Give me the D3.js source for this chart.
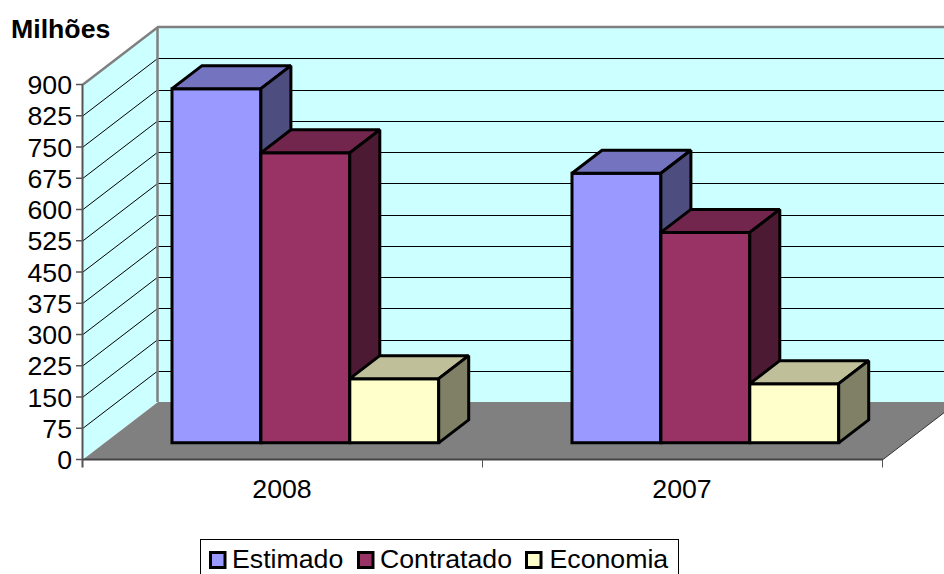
<!DOCTYPE html>
<html><head><meta charset="utf-8">
<script src="https://cdn.jsdelivr.net/npm/d3@7/dist/d3.min.js"></script>
<style>html,body{margin:0;padding:0;background:#fff}svg{display:block}text{font-family:"Liberation Sans",Arial,sans-serif;fill:#000}</style>
</head><body><svg id="c" width="944" height="574"></svg>
<script>
const categories = ["2008", "2007"];
const seriesNames = ["Estimado", "Contratado", "Economia"];
const estimado = [850, 647];
const contratado = [696, 505];
const economia = [154, 142];
const tickValues = [0,75,150,225,300,375,450,525,600,675,750,825,900];
const seriesValues = [estimado, contratado, economia];
const faceColors = ["#9999FF", "#993366", "#FFFFCC"];
const topColors = ["#7373BF", "#73264D", "#BFBF99"];
const sideColors = ["#4D4D80", "#4D1A33", "#808066"];

const svg = d3.select("#c");
const y = d3.scaleLinear().domain([0, 900]).range([459.5, 84.5]);
const x = d3.scaleBand().domain(categories).range([83, 883]);
const depth = {dx: 75, dy: -57.5};
const barFrac = 0.29, barDepth = 0.40;
const bw = 88.9;
const fs = 26.7;
const line = p => "M" + p.map(d => d.join(",")).join("L") + "Z";
const bottom = y(0), top9 = y(900), L = x.range()[0], R = x.range()[1];

// back wall, side wall, floor
svg.append("path").attr("d", line([[L+depth.dx, top9+depth.dy],[960, top9+depth.dy],[960,bottom+depth.dy],[L+depth.dx,bottom+depth.dy]])).attr("fill","#CCFFFF");
svg.append("path").attr("d", line([[L,top9],[L+depth.dx,top9+depth.dy],[L+depth.dx,bottom+depth.dy],[L,bottom]])).attr("fill","#CCFFFF");
svg.append("path").attr("d", line([[L,bottom],[L+depth.dx,bottom+depth.dy],[R+depth.dx,bottom+depth.dy],[R,bottom]])).attr("fill","#808080");

// gridlines
tickValues.slice(1,-1).forEach(t => {
  svg.append("line").attr("x1",L).attr("y1",y(t)).attr("x2",L+depth.dx).attr("y2",y(t)+depth.dy).attr("stroke","#000").attr("stroke-width",1);
  svg.append("line").attr("x1",L+depth.dx).attr("y1",Math.round(y(t)+depth.dy)+.5).attr("x2",944).attr("y2",Math.round(y(t)+depth.dy)+.5).attr("stroke","#000").attr("stroke-width",1);
});
// wall edges
const edge = "#808080";
svg.append("path").attr("d",`M${L},${top9}L${L+depth.dx},${top9+depth.dy}L944,${top9+depth.dy}`).attr("fill","none").attr("stroke",edge).attr("stroke-width",2.5);
svg.append("line").attr("x1",L+depth.dx-.5).attr("y1",top9+depth.dy).attr("x2",L+depth.dx-.5).attr("y2",bottom+depth.dy).attr("stroke",edge).attr("stroke-width",2.5);

// bars
categories.forEach((c,i) => {
  const x0 = x(c) + 89;
  seriesValues.forEach((vals,s) => {
    const xa = x0 + s*bw, xb = xa + bw;
    const yb = y(0) + depth.dy*barFrac, yt = y(vals[i]) + depth.dy*barFrac;
    const ox = depth.dx*barDepth, oy = depth.dy*barDepth;
    const g = svg.append("g").attr("stroke","#000").attr("stroke-width",3).attr("stroke-linejoin","miter").attr("stroke-miterlimit",2);
    g.append("path").attr("d",line([[xa,yb],[xb,yb],[xb,yt],[xa,yt]])).attr("fill",faceColors[s]);
    g.append("path").attr("d",line([[xa,yt],[xb,yt],[xb+ox,yt+oy],[xa+ox,yt+oy]])).attr("fill",topColors[s]);
    g.append("path").attr("d",line([[xb,yb],[xb+ox,yb+oy],[xb+ox,yt+oy],[xb,yt]])).attr("fill",sideColors[s]);
  });
});

// axes
const axisC = "#555";
svg.append("line").attr("x1",L-.5).attr("y1",top9).attr("x2",L-.5).attr("y2",bottom+8).attr("stroke",axisC).attr("stroke-width",2);
svg.append("line").attr("x1",L).attr("y1",bottom).attr("x2",R).attr("y2",bottom).attr("stroke","#444").attr("stroke-width",2);
svg.append("line").attr("x1",R).attr("y1",bottom).attr("x2",R+depth.dx).attr("y2",bottom+depth.dy).attr("stroke","#333").attr("stroke-width",1);
tickValues.forEach(t => {
  svg.append("line").attr("x1",L-7).attr("y1",y(t)).attr("x2",L).attr("y2",y(t)).attr("stroke",axisC).attr("stroke-width",1.5);
  svg.append("text").attr("x",L-11).attr("y",y(t)+9.5).attr("text-anchor","end").attr("font-size",fs).text(t);
});
categories.concat(["end"]).forEach((c,i) => {
  const px = Math.floor(L + i*x.bandwidth()) - .5;
  if (i>0) svg.append("line").attr("x1",px).attr("y1",bottom).attr("x2",px).attr("y2",bottom+8).attr("stroke",axisC).attr("stroke-width",1);
});
categories.forEach(c => {
  svg.append("text").attr("x",x(c)+x.bandwidth()/2-1).attr("y",498).attr("text-anchor","middle").attr("font-size",fs).text(c);
});
svg.append("text").attr("x",11).attr("y",38).attr("font-size",fs).attr("font-weight","bold").text("Milhões");

// legend
svg.append("rect").attr("x",200.5).attr("y",539.5).attr("width",478).attr("height",40).attr("fill","#fff").attr("stroke","#000").attr("stroke-width",1);
const legendX = [210.5, 358.5, 526.5];
const legendTextX = [232, 380, 549.5];
seriesNames.forEach((n,i) => {
  svg.append("rect").attr("x",legendX[i]).attr("y",552.5).attr("width",14.5).attr("height",15).attr("fill",faceColors[i]).attr("stroke","#000").attr("stroke-width",3);
  svg.append("text").attr("x",legendTextX[i]).attr("y",568.3).attr("font-size",fs).text(n);
});
</script></body></html>
